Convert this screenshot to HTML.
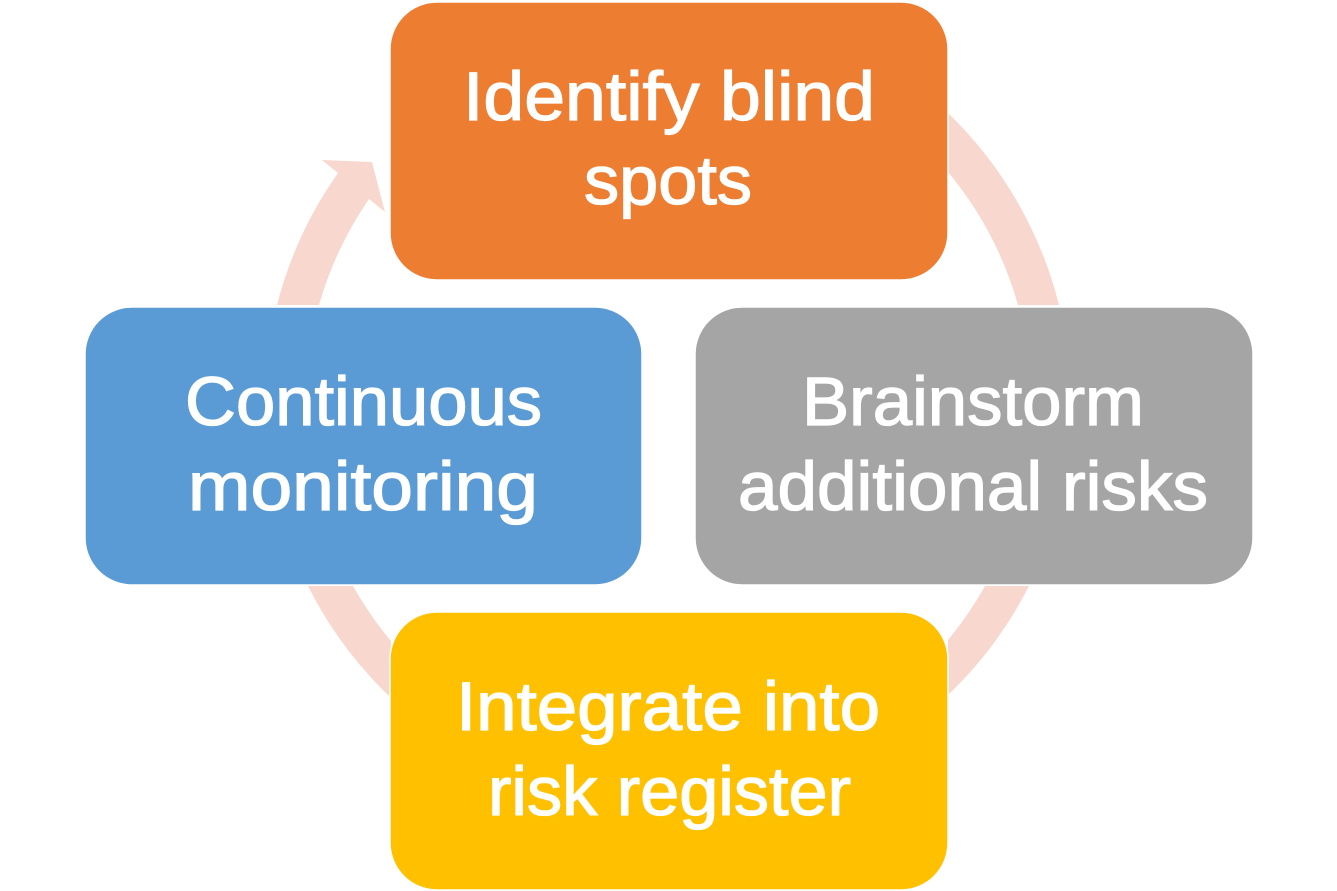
<!DOCTYPE html>
<html lang="en">
<head>
<meta charset="utf-8">
<title>Risk identification cycle</title>
<style>
html,body{margin:0;padding:0;background:#fff;width:1337px;height:891px;overflow:hidden}
svg{display:block}
text{font-family:"Liberation Sans",sans-serif;font-size:69px;fill:#fff;stroke:#fff;stroke-width:1.3px}
</style>
</head>
<body>
<svg width="1337" height="891" viewBox="0 0 1337 891" xmlns="http://www.w3.org/2000/svg">
<g fill="#F8D8CE">
<path d="M948,113 A403,403 0 0 1 1059,305 L1018,305 A364,364 0 0 0 948,172 Z"/>
<path d="M1029,586 A403,403 0 0 1 948,695 L948,640 A364,364 0 0 0 985,586 Z"/>
<path d="M353,586 A364,364 0 0 0 391,641 L389,696 A403,403 0 0 1 308,586 Z"/>
<path d="M277,305 A403,403 0 0 1 338,173 L322,160 L372,162 L385,212 L369,199 A364,364 0 0 0 319,305 Z"/>
</g>
<g stroke="#fff" stroke-width="1.5">
<rect x="390" y="2" width="558" height="278" rx="47" ry="47" fill="#ED7D31"/>
<rect x="85" y="307" width="557" height="278" rx="47" ry="47" fill="#5B9BD5"/>
<rect x="695" y="307" width="558" height="278" rx="47" ry="47" fill="#A5A5A5"/>
<rect x="390" y="612" width="558" height="278" rx="47" ry="47" fill="#FFC000"/>
</g>
<text x="463" y="120" textLength="412" lengthAdjust="spacingAndGlyphs">Identify blind</text>
<text x="584" y="204" textLength="168" lengthAdjust="spacingAndGlyphs">spots</text>
<text x="185" y="425" textLength="357" lengthAdjust="spacingAndGlyphs">Continuous</text>
<text x="188" y="510" textLength="350" lengthAdjust="spacingAndGlyphs">monitoring</text>
<text x="802" y="425" textLength="342" lengthAdjust="spacingAndGlyphs">Brainstorm</text>
<text x="738" y="510" textLength="470" lengthAdjust="spacingAndGlyphs">additional risks</text>
<text x="456" y="730" textLength="424" lengthAdjust="spacingAndGlyphs">Integrate into</text>
<text x="488" y="815" textLength="363" lengthAdjust="spacingAndGlyphs">risk register</text>
</svg>
</body>
</html>
